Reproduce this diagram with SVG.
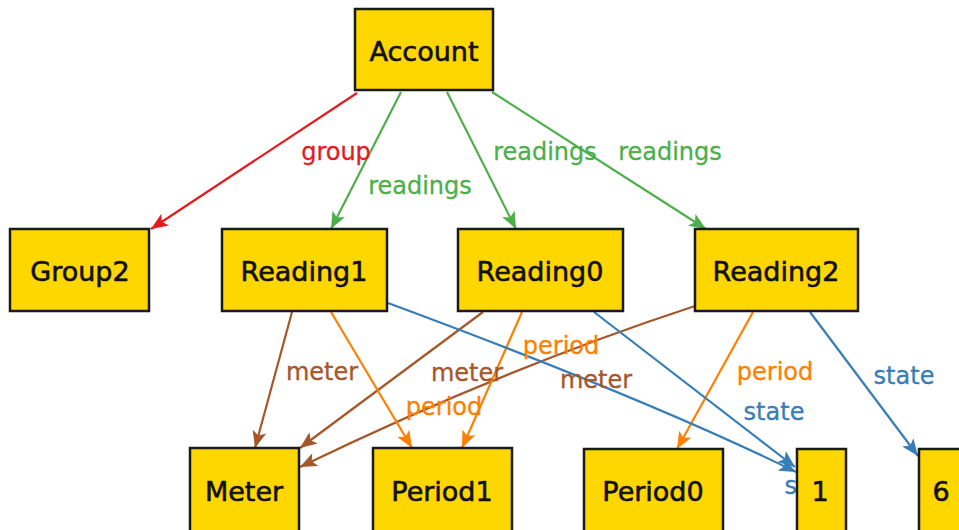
<svg xmlns="http://www.w3.org/2000/svg" width="959" height="530" viewBox="0 0 959 530">
<style>
.node rect{fill:#FFD700;stroke:#1a1a1a;stroke-width:2.5}
.node text{font-family:"DejaVu Sans",sans-serif;font-size:27px;fill:#111;stroke:#111;stroke-width:0.6;text-anchor:middle}
.lbl{font-family:"DejaVu Sans",sans-serif;font-size:24px;text-anchor:middle;stroke-width:0.3}
.e{fill:none;stroke-width:2.2}
.red{stroke:#e41a1c}.green{stroke:#4daf4a}.brown{stroke:#a65628}.orange{stroke:#ff7f00}.blue{stroke:#377eb8}
</style>
<defs>
<marker id="aRed" markerUnits="userSpaceOnUse" markerWidth="18" markerHeight="14" refX="17" refY="7" orient="auto"><path d="M0,0 L17,7 L0,14 L4,7 z" fill="#e41a1c"/></marker>
<marker id="aGreen" markerUnits="userSpaceOnUse" markerWidth="18" markerHeight="14" refX="17" refY="7" orient="auto"><path d="M0,0 L17,7 L0,14 L4,7 z" fill="#4daf4a"/></marker>
<marker id="aBrown" markerUnits="userSpaceOnUse" markerWidth="18" markerHeight="14" refX="17" refY="7" orient="auto"><path d="M0,0 L17,7 L0,14 L4,7 z" fill="#a65628"/></marker>
<marker id="aOrange" markerUnits="userSpaceOnUse" markerWidth="18" markerHeight="14" refX="17" refY="7" orient="auto"><path d="M0,0 L17,7 L0,14 L4,7 z" fill="#ff7f00"/></marker>
<marker id="aBlue" markerUnits="userSpaceOnUse" markerWidth="18" markerHeight="14" refX="17" refY="7" orient="auto"><path d="M0,0 L17,7 L0,14 L4,7 z" fill="#377eb8"/></marker>
</defs>
<rect width="959" height="530" fill="#fff"/>
<g id="connectors">
<path class="e red" d="M357 93 L151 229" marker-end="url(#aRed)"/>
<path class="e green" d="M401 92 L331 229" marker-end="url(#aGreen)"/>
<path class="e green" d="M447 92 L516 229" marker-end="url(#aGreen)"/>
<path class="e green" d="M492 92 L706 229" marker-end="url(#aGreen)"/>
<path class="e brown" d="M292 312 L255 448" marker-end="url(#aBrown)"/>
<path class="e brown" d="M483 312 L300 448" marker-end="url(#aBrown)"/>
<path class="e brown" d="M695 306 Q500 370 300 467" marker-end="url(#aBrown)"/>
<path class="e orange" d="M331 312 L412 448" marker-end="url(#aOrange)"/>
<path class="e orange" d="M522 312 L462 448" marker-end="url(#aOrange)"/>
<path class="e orange" d="M753 312 L677 449" marker-end="url(#aOrange)"/>
<path class="e blue" d="M388 303 Q650 400 796 472" marker-end="url(#aBlue)"/>
<path class="e blue" d="M594 312 L795 467" marker-end="url(#aBlue)"/>
<path class="e blue" d="M810 312 L918 456" marker-end="url(#aBlue)"/>
<text class="lbl" x="336" y="160" fill="#e41a1c" stroke="#e41a1c">group</text>
<text class="lbl" x="420" y="194" fill="#4daf4a" stroke="#4daf4a">readings</text>
<text class="lbl" x="545" y="160" fill="#4daf4a" stroke="#4daf4a">readings</text>
<text class="lbl" x="670" y="160" fill="#4daf4a" stroke="#4daf4a">readings</text>
<text class="lbl" x="322" y="380" fill="#a65628" stroke="#a65628">meter</text>
<text class="lbl" x="467" y="381" fill="#a65628" stroke="#a65628">meter</text>
<text class="lbl" x="596" y="388" fill="#a65628" stroke="#a65628">meter</text>
<text class="lbl" x="561" y="354" fill="#ff7f00" stroke="#ff7f00">period</text>
<text class="lbl" x="444" y="415" fill="#ff7f00" stroke="#ff7f00">period</text>
<text class="lbl" x="775" y="380" fill="#ff7f00" stroke="#ff7f00">period</text>
<text class="lbl" x="774" y="420" fill="#377eb8" stroke="#377eb8">state</text>
<text class="lbl" x="904" y="384" fill="#377eb8" stroke="#377eb8">state</text>
<text class="lbl" x="815" y="494" fill="#377eb8" stroke="#377eb8">state</text>
</g>
<g id="Account" class="node"><rect x="355" y="9" width="138" height="81"/><text x="424" y="61">Account</text></g>
<g id="Group2" class="node"><rect x="10" y="229" width="139" height="82"/><text x="80" y="281">Group2</text></g>
<g id="Reading1" class="node"><rect x="222" y="229" width="165" height="82"/><text x="304" y="281">Reading1</text></g>
<g id="Reading0" class="node"><rect x="458" y="229" width="165" height="82"/><text x="540" y="281">Reading0</text></g>
<g id="Reading2" class="node"><rect x="695" y="229" width="163" height="82"/><text x="776" y="281">Reading2</text></g>
<g id="Meter" class="node"><rect x="190" y="448" width="109" height="90"/><text x="244" y="501">Meter</text></g>
<g id="Period1" class="node"><rect x="373" y="448" width="139" height="90"/><text x="442" y="501">Period1</text></g>
<g id="Period0" class="node"><rect x="584" y="449" width="139" height="90"/><text x="653" y="501">Period0</text></g>
<g id="n1" class="node"><rect x="797" y="449" width="49" height="90"/><text x="820" y="501">1</text></g>
<g id="n6" class="node"><rect x="919" y="449" width="49" height="90"/><text x="941" y="501">6</text></g>
</svg>
